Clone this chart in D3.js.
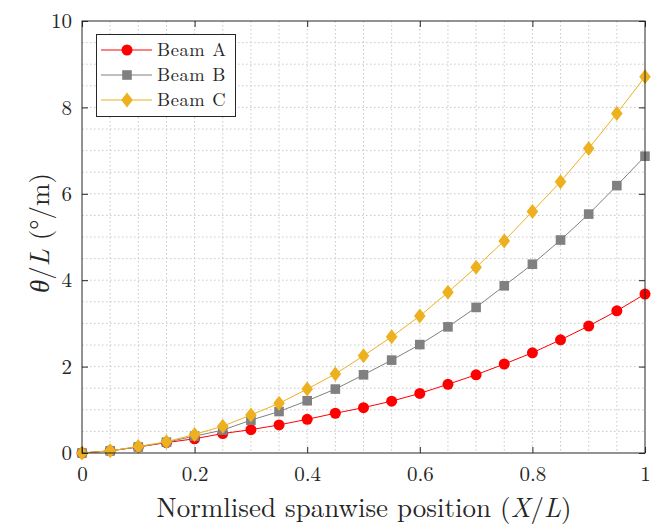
<!DOCTYPE html>
<html><head><meta charset="utf-8">
<script src="https://cdn.jsdelivr.net/npm/d3@7"></script>
<style>body{margin:0;background:#fff}svg{display:block}</style>
</head><body>
<svg id="c" width="651" height="525"></svg>
<script>
const xVals = [0,0.05,0.1,0.15,0.2,0.25,0.3,0.35,0.4,0.45,0.5,0.55,0.6,0.65,0.7,0.75,0.8,0.85,0.9,0.95,1];
const beamA = [0,0.05,0.14,0.24,0.33,0.45,0.54,0.65,0.78,0.92,1.05,1.20,1.38,1.59,1.81,2.06,2.32,2.62,2.94,3.29,3.68];
const beamB = [0,0.05,0.14,0.25,0.39,0.53,0.76,0.96,1.21,1.48,1.81,2.15,2.51,2.92,3.37,3.87,4.37,4.93,5.53,6.19,6.87];
const beamC = [0,0.05,0.15,0.26,0.43,0.62,0.88,1.15,1.48,1.83,2.25,2.69,3.17,3.72,4.30,4.91,5.59,6.28,7.05,7.86,8.71];
const seriesNames = ["Beam A","Beam B","Beam C"];
const xTicks = [0,0.2,0.4,0.6,0.8,1];
const yTicks = [0,2,4,6,8,10];
const xGrid = [0.05,0.1,0.15,0.2,0.25,0.3,0.35,0.4,0.45,0.5,0.55,0.6,0.65,0.7,0.75,0.8,0.85,0.9,0.95];
const yGrid = [0.5,1,1.5,2,2.5,3,3.5,4,4.5,5,5.5,6,6.5,7,7.5,8,8.5,9,9.5];

const FONT = '"Latin Modern Roman","Liberation Serif",serif';
const TXT = "#262626";
const colors = ["#ff0000","#808080","#EDB120"];
const markers = ["circle","square","diamond"];
const svg = d3.select("#c");
const L=82,R=645,T=21,B=453;
const x = d3.scaleLinear().domain([0,1]).range([L,R]);
const y = d3.scaleLinear().domain([0,10]).range([B,T]);

// grid
const g = svg.append("g");
g.selectAll(".gx").data(xGrid).join("line").attr("x1",d=>x(d)).attr("x2",d=>x(d)).attr("y1",T).attr("y2",B)
 .attr("stroke","#c8c8c8").attr("stroke-width",1).attr("stroke-dasharray","1.5,2.5");
g.selectAll(".gy").data(yGrid).join("line").attr("y1",d=>y(d)).attr("y2",d=>y(d)).attr("x1",L).attr("x2",R)
 .attr("stroke","#c8c8c8").attr("stroke-width",1).attr("stroke-dasharray","1.5,2.5");

function marker(sel, type, color){
  if(type==="circle") sel.append("circle").attr("r",5.5).attr("fill",color);
  else if(type==="square") sel.append("rect").attr("x",-4.8).attr("y",-4.8).attr("width",9.6).attr("height",9.6).attr("fill",color);
  else sel.append("path").attr("d","M0,-7.5L5.8,0L0,7.5L-5.8,0Z").attr("fill",color);
}

const data = [beamA,beamB,beamC];
const line = d3.line().x((d,i)=>x(xVals[i])).y(d=>y(d));
data.forEach((s,k)=>{
  svg.append("path").datum(s).attr("d",line).attr("fill","none").attr("stroke",colors[k]).attr("stroke-width",1);
  s.forEach((v,i)=>{
    const m = svg.append("g").attr("transform",`translate(${x(xVals[i])},${y(v)})`);
    marker(m, markers[k], colors[k]);
  });
});

// axes box
svg.append("rect").attr("x",L).attr("y",T).attr("width",R-L).attr("height",B-T).attr("fill","none").attr("stroke",TXT).attr("stroke-width",1);
function styleAxis(s){
  s.select(".domain").remove();
  s.selectAll("line").attr("stroke",TXT);
  s.selectAll("text").style("font-family",FONT).style("font-size","21px").attr("fill",TXT);
}
svg.append("g").attr("transform",`translate(0,${B})`).call(d3.axisBottom(x).tickValues(xTicks).tickSize(-6).tickPadding(13).tickFormat(d3.format("~g"))).call(styleAxis);
svg.append("g").attr("transform",`translate(0,${T})`).call(d3.axisTop(x).tickValues(xTicks).tickSize(-6).tickFormat("")).call(styleAxis);
svg.append("g").attr("transform",`translate(${L},0)`).call(d3.axisLeft(y).tickValues(yTicks).tickSize(-6).tickPadding(10).tickFormat(d3.format("~g"))).call(styleAxis);
svg.append("g").attr("transform",`translate(${R},0)`).call(d3.axisRight(y).tickValues(yTicks).tickSize(-6).tickFormat("")).call(styleAxis);

// axis labels
const xl = svg.append("text").attr("x",364).attr("y",517).attr("text-anchor","middle")
  .style("font-family",FONT).style("font-size","27px").attr("fill",TXT);
xl.append("tspan").text("Normlised spanwise position (");
xl.append("tspan").attr("font-style","italic").text("X");
xl.append("tspan").text("/");
xl.append("tspan").attr("font-style","italic").text("L");
xl.append("tspan").text(")");

const yl = svg.append("text").attr("transform",`translate(49,233) rotate(-90)`).attr("text-anchor","middle")
  .style("font-family",FONT).style("font-size","27px").attr("fill",TXT);
yl.append("tspan").attr("font-style","italic").text("θ");
yl.append("tspan").text("/");
yl.append("tspan").attr("font-style","italic").text("L");
yl.append("tspan").text(" (°/m)");

// legend
const lg = svg.append("g");
lg.append("rect").attr("x",96.5).attr("y",34.5).attr("width",139).attr("height",82).attr("fill","#fff").attr("stroke",TXT).attr("stroke-width",1);
seriesNames.forEach((n,k)=>{
  const cy = 50 + k*25;
  lg.append("line").attr("x1",101).attr("x2",152).attr("y1",cy).attr("y2",cy).attr("stroke",colors[k]).attr("stroke-width",1);
  const m = lg.append("g").attr("transform",`translate(127,${cy})`);
  marker(m, markers[k], colors[k]);
  lg.append("text").attr("x",157).attr("y",cy+6).style("font-family",FONT).style("font-size","18.5px")
    .style("letter-spacing","0.6px").attr("fill",TXT).text(n);
});
</script>
</body></html>
